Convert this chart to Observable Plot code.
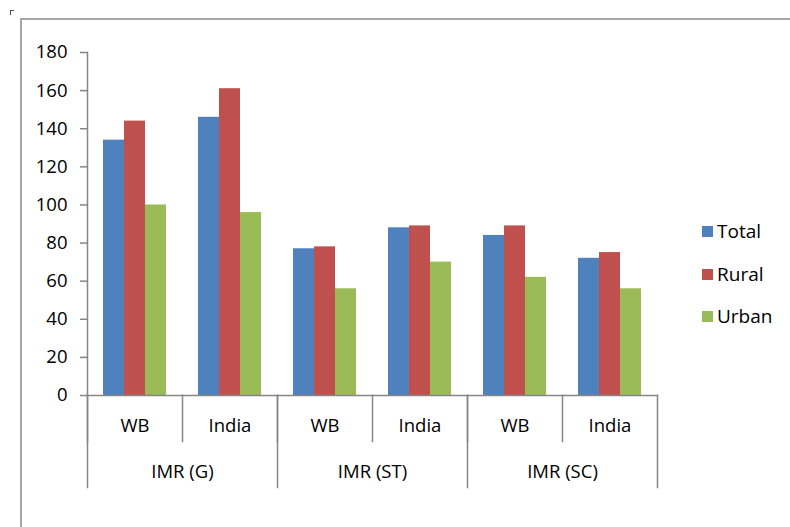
<!DOCTYPE html>
<html>
<head>
<meta charset="utf-8">
<script src="https://cdn.jsdelivr.net/npm/d3@7"></script>
<script src="https://cdn.jsdelivr.net/npm/@observablehq/plot@0.6"></script>
<style>
  html, body { margin: 0; padding: 0; background: #fff; }
  #wrap { position: relative; width: 790px; height: 527px; overflow: hidden; font-family: "Open Sans", sans-serif; }
  #chart svg { display: block; background: transparent; }
  .border { position: absolute; left: 20px; top: 18px; right: -10px; bottom: -10px; border-left: 2px solid #a6a6a6; border-top: 2px solid #a6a6a6; pointer-events: none; }
  .corner { position: absolute; left: 10px; top: 10px; width: 3px; height: 4px; border-left: 1.5px solid #555; border-top: 1.5px solid #555; }
  .legend { position: absolute; left: 702px; top: 0; }
  .item { position: absolute; left: 0; height: 18px; display: flex; align-items: center; white-space: nowrap; font-size: 19px; color: #000; }
  .sw { width: 11px; height: 11px; margin-right: 4px; }
</style>
</head>
<body>
<div id="wrap">
  <div id="chart"></div>
  <div class="border"></div>
  <div class="corner"></div>
  <div class="legend" id="legend"></div>
</div>
<script>
const groups = ["IMR (G)", "IMR (ST)", "IMR (SC)"];
const regions = ["WB", "India"];
const series = ["Total", "Rural", "Urban"];
const total = [134, 146, 77, 88, 84, 72];
const rural = [144, 161, 78, 89, 89, 75];
const urban = [100, 96, 56, 70, 62, 56];
const yTicks = [0, 20, 40, 60, 80, 100, 120, 140, 160, 180];
const colors = ["#4F81BD", "#C0504D", "#9BBB59"];

const axisGray = "#868686";

// build the facets: one per (group, region)
const cells = [];
groups.forEach(g => regions.forEach(r => cells.push({group: g, region: r, key: g + "|" + r})));
const keys = cells.map(c => c.key);
const valuesBySeries = [total, rural, urban];
const data = [];
cells.forEach((c, i) => series.forEach((s, j) => data.push({key: c.key, series: s, value: valuesBySeries[j][i]})));

// group labels are centred on the boundary between WB and India of each group
const groupLabels = groups.map(g => ({key: g + "|" + regions[1], label: g}));
const groupStarts = groups.map(g => g + "|" + regions[0]);

const chart = Plot.plot({
  width: 790,
  height: 527,
  marginLeft: 86,
  marginRight: 133,
  marginTop: 52,
  marginBottom: 132,
  style: {fontFamily: "'Open Sans', sans-serif", fontSize: "18px", color: "#000", background: "transparent"},
  fx: {domain: keys, padding: 0, axis: null},
  x: {domain: series, paddingInner: 0, paddingOuter: 0.756, axis: null},
  y: {domain: [0, 180], axis: null},
  color: {domain: series, range: colors},
  marks: [
    Plot.barY(data, {fx: "key", x: "series", y: "value", fill: "series"}),
    Plot.axisY({ticks: yTicks, tickSize: 7, tickPadding: 13, fontSize: 18.5, stroke: axisGray, fill: "#000", label: null, strokeWidth: 1.5}),
    // y axis line
    Plot.frame({facet: "super", anchor: "left", stroke: axisGray, strokeWidth: 1.5}),
    // x axis baseline
    Plot.frame({facet: "super", anchor: "bottom", stroke: axisGray, strokeWidth: 1.5}),
    // inner separators (every facet left edge)
    Plot.frame({anchor: "left", stroke: axisGray, strokeWidth: 1.5, insetTop: 343, insetBottom: -46}),
    // group separators
    ...groupStarts.map(k => Plot.frame({fx: k, anchor: "left", stroke: axisGray, strokeWidth: 1.5, insetTop: 343, insetBottom: -92})),
    Plot.frame({facet: "super", anchor: "right", stroke: axisGray, strokeWidth: 1.5, insetTop: 343, insetBottom: -92}),
    // sub category labels
    Plot.text(cells, {fx: "key", text: "region", frameAnchor: "bottom", dy: 31, lineAnchor: "middle", fontSize: 18.5, fill: "#000"}),
    // group labels
    Plot.text(groupLabels, {fx: "key", text: "label", frameAnchor: "bottom-left", textAnchor: "middle", dy: 77, lineAnchor: "middle", fontSize: 18.5, fill: "#000"})
  ]
});
document.getElementById("chart").appendChild(chart);

// legend
const legend = document.getElementById("legend");
const legendTops = [222, 265, 307];
series.forEach((s, i) => {
  const item = document.createElement("div");
  item.className = "item";
  item.style.top = legendTops[i] + "px";
  const sw = document.createElement("span");
  sw.className = "sw";
  sw.style.background = colors[i];
  const t = document.createElement("span");
  t.textContent = s;
  item.appendChild(sw);
  item.appendChild(t);
  legend.appendChild(item);
});
</script>
</body>
</html>
